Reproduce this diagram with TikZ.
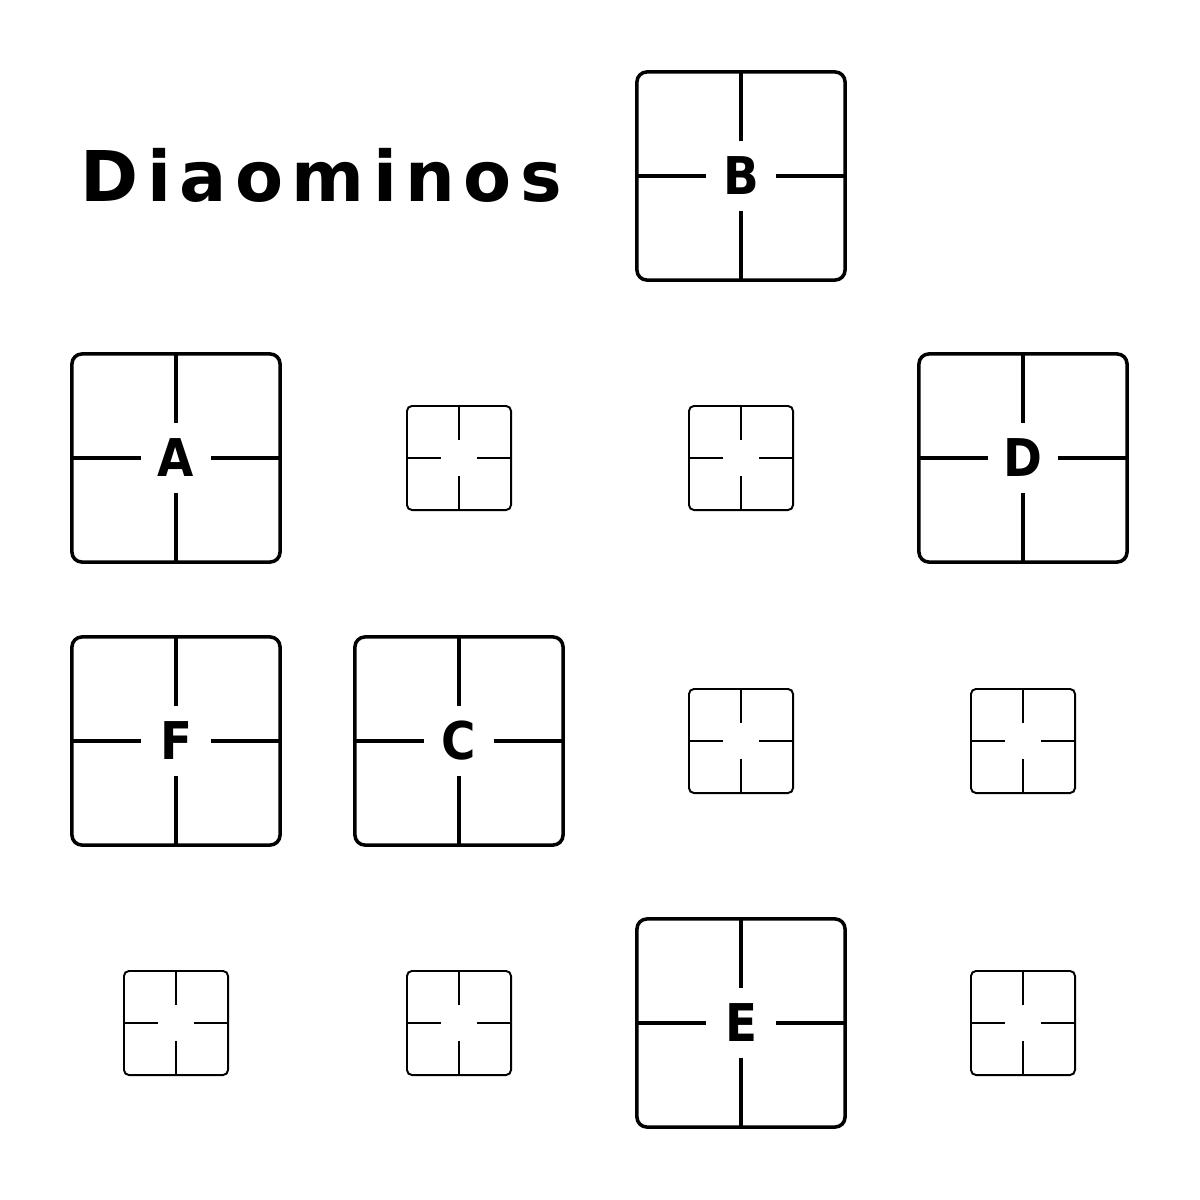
\documentclass[tikz,border=0pt]{standalone}
\usepackage{fontspec}
\setmainfont{DejaVu Sans}
\newfontfamily\tilefont{DejaVu Sans Condensed}
\usepackage{tikz}
\usetikzlibrary{positioning}

\tikzset{
  bigtile/.style={draw, line width=1pt, rounded corners=1mm, minimum size=20.8mm,
    inner sep=0pt, outer sep=0pt, font=\tilefont\fontsize{14.8}{16}\selectfont\bfseries},
  smalltile/.style={draw, line width=0.55pt, rounded corners=0.5mm, minimum size=10.4mm,
    inner sep=0pt, outer sep=0pt},
}

\begin{document}
\begin{tikzpicture}[x=0.01cm, y=-0.01cm]
  \useasboundingbox (0,0) rectangle (1200,1200);

  % Title
  \node[anchor=base west, inner sep=0pt,
        font=\fontsize{19.9}{22}\selectfont\bfseries\addfontfeature{LetterSpace=12}]
        (title) at (80,201) {Diaominos};

  % Lettered tiles
  \node[bigtile] (B) at (741,176) {B};
  \node[bigtile] (A) at (176,458) {A};
  \node[bigtile] (D) at (1023,458) {D};
  \node[bigtile] (F) at (176,741) {F};
  \node[bigtile] (C) at (459,741) {C};
  \node[bigtile] (E) at (741,1023) {E};

  % Small tiles
  \node[smalltile] (s1) at (459,458) {};
  \node[smalltile] (s2) at (741,458) {};
  \node[smalltile] (s3) at (741,741) {};
  \node[smalltile] (s4) at (1023,741) {};
  \node[smalltile] (s5) at (176,1023) {};
  \node[smalltile] (s6) at (459,1023) {};
  \node[smalltile] (s7) at (1023,1023) {};

  % Crosses
  \foreach \t in {B,A,D,F,C,E}
    \foreach \a in {north,south,east,west}
      \draw[line width=1pt, shorten >=3.5mm] (\t.\a) -- (\t.center);
  \foreach \t in {s1,s2,s3,s4,s5,s6,s7}
    \foreach \a in {north,south,east,west}
      \draw[line width=0.55pt, shorten >=1.8mm] (\t.\a) -- (\t.center);
\end{tikzpicture}
\end{document}
